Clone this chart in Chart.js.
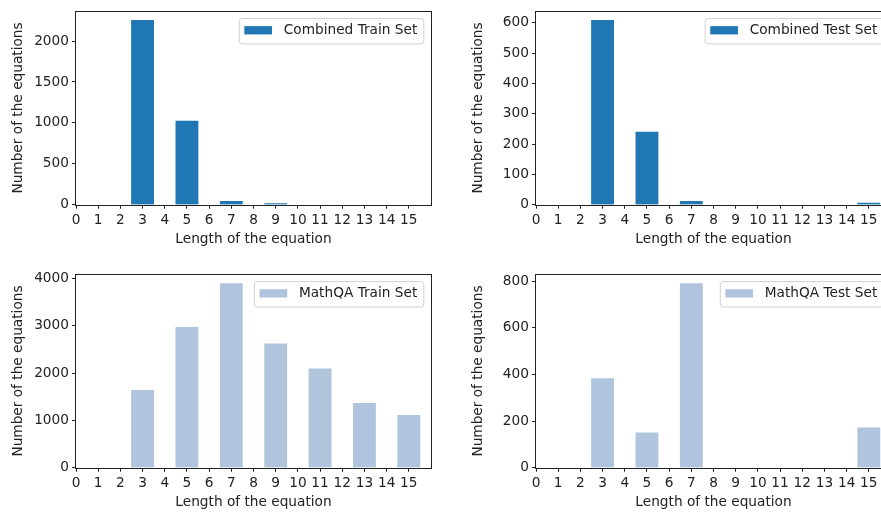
<!DOCTYPE html>
<html><head><meta charset="utf-8">
<script src="https://cdn.jsdelivr.net/npm/chart.js@4.4.0/dist/chart.umd.min.js"></script>
<style>
html,body{margin:0;padding:0;width:881px;height:512px;overflow:hidden;background:#fff;}
canvas.c{position:absolute;}
</style></head><body>
<canvas id="c1" class="c" width="440" height="249" style="left:0;top:0"></canvas>
<canvas id="c2" class="c" width="440" height="249" style="left:460px;top:0"></canvas>
<canvas id="c3" class="c" width="440" height="256" style="left:0;top:256px"></canvas>
<canvas id="c4" class="c" width="440" height="256" style="left:460px;top:256px"></canvas>
<script>
// ---- data ----
const lengths = [3, 5, 7, 9, 11, 13, 15];
const combinedTrain = [2252, 1021, 40, 15, 0, 0, 0];
const combinedTest = [608, 240, 11, 0, 0, 0, 5];
const mathqaTrain = [1636, 2968, 3895, 2619, 2093, 1362, 1109];
const mathqaTest = [382, 150, 790, 0, 0, 0, 171];
const xTicks = [0, 1, 2, 3, 4, 5, 6, 7, 8, 9, 10, 11, 12, 13, 14, 15];
const yTicksCombinedTrain = [0, 500, 1000, 1500, 2000];
const yTicksCombinedTest = [0, 100, 200, 300, 400, 500, 600];
const yTicksMathqaTrain = [0, 1000, 2000, 3000, 4000];
const yTicksMathqaTest = [0, 200, 400, 600, 800];
const xLabel = 'Length of the equation';
const yLabel = 'Number of the equations';

const FS = 13.7;
Chart.defaults.font.family = 'DejaVu Sans';
Chart.defaults.font.size = FS;
Chart.defaults.color = '#222';

const FONT = FS + 'px "DejaVu Sans"';
const frameAndLegend = {
  id: 'frameAndLegend',
  afterDatasetsDraw(chart) {
    const ctx = chart.ctx, ca = chart.chartArea;
    ctx.save();
    ctx.strokeStyle = '#222';
    ctx.lineWidth = 1;
    const l = Math.round(ca.left) - 0.5, t = Math.round(ca.top) + 0.5;
    const r = Math.round(ca.right) + 0.5, b = Math.round(ca.bottom) + 0.5;
    ctx.strokeRect(l, t, r - l, b - t);
    // legend
    const ds = chart.data.datasets[0];
    ctx.font = FONT;
    const tw = ctx.measureText(ds.label).width;
    const bw = tw + 51, bh = 25.4;
    const bx = ca.right - 7.7 - bw, by = ca.top + 6.8;
    ctx.beginPath();
    ctx.roundRect(bx + 0.5, by + 0.5, bw, bh, 3);
    ctx.fillStyle = 'rgba(255,255,255,0.8)';
    ctx.fill();
    ctx.strokeStyle = '#d0d0d0';
    ctx.stroke();
    const cy = by + bh / 2;
    ctx.fillStyle = ds.backgroundColor;
    ctx.fillRect(bx + 5.6, cy - 4.6, 27.7, 8.3);
    ctx.fillStyle = '#222';
    ctx.textBaseline = 'middle';
    ctx.textAlign = 'left';
    ctx.fillText(ds.label, bx + 45, cy);
    ctx.restore();
  }
};

function makeChart(id, label, values, color, yTicks, padTop) {
  const maxV = Math.max(...values) * 1.05;
  new Chart(document.getElementById(id), {
    type: 'bar',
    data: {
      datasets: [{
        label: label,
        data: lengths.map((x, i) => ({ x: x, y: values[i] > 0 ? values[i] : null })),
        backgroundColor: color,
        borderWidth: 0,
        categoryPercentage: 1,
        barPercentage: 1
      }]
    },
    plugins: [frameAndLegend],
    options: {
      responsive: false,
      animation: false,
      events: [],
      layout: { padding: { top: padTop, right: 9, left: 0, bottom: 0 } },
      plugins: { legend: { display: false }, tooltip: { enabled: false } },
      scales: {
        x: {
          type: 'linear', min: 0, max: 16, offset: false,
          afterBuildTicks: s => { s.ticks = xTicks.map(v => ({ value: v })); },
          afterFit: s => { s.height = 44.3; },
          grid: { display: true, drawOnChartArea: false, offset: false, tickLength: 4, tickColor: '#222', tickWidth: 1 },
          border: { display: false },
          ticks: { padding: 3.5, maxRotation: 0, autoSkip: false, color: '#222', callback: v => String(v) },
          title: { display: true, text: xLabel, color: '#222', padding: { top: 0, bottom: 1 } }
        },
        y: {
          min: 0, max: maxV,
          afterBuildTicks: s => { s.ticks = yTicks.map(v => ({ value: v })); },
          afterFit: s => { s.width = 76; },
          grid: { display: true, drawOnChartArea: false, tickLength: 4, tickColor: '#222', tickWidth: 1 },
          border: { display: false },
          ticks: { padding: 3, color: '#222', callback: v => String(v) },
          title: { display: true, text: yLabel, color: '#222', padding: { top: 10.3, bottom: 0 } }
        }
      }
    }
  });
}

makeChart('c1', 'Combined Train Set', combinedTrain, '#1f77b4', yTicksCombinedTrain, 10.7);
makeChart('c2', 'Combined Test Set', combinedTest, '#1f77b4', yTicksCombinedTest, 10.2);
makeChart('c3', 'MathQA Train Set', mathqaTrain, '#b0c4de', yTicksMathqaTrain, 18.3);
makeChart('c4', 'MathQA Test Set', mathqaTest, '#b0c4de', yTicksMathqaTest, 18.3);
</script>
</body></html>
